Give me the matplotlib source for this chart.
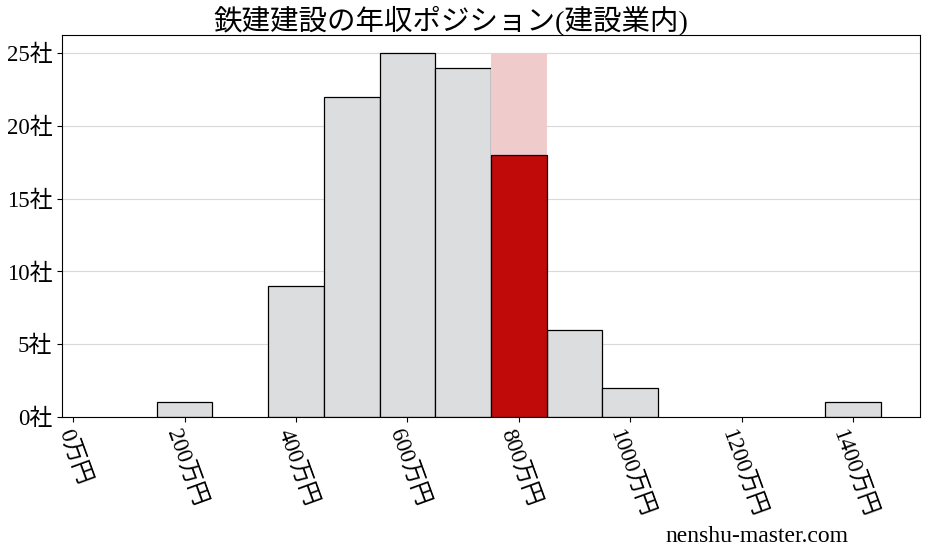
import numpy as np
import matplotlib
matplotlib.use("Agg")
import matplotlib.pyplot as plt

plt.rcParams['font.family'] = ['Liberation Serif', 'Noto Sans CJK JP', 'DejaVu Sans']

# histogram bins (万円) and counts of companies in the industry
bin_left = [150, 350, 450, 550, 650, 750, 850, 950, 1350]
counts = [1, 9, 22, 25, 24, 25, 6, 2, 1]
bin_width = 100
# the bin that holds this company
hl_left = 750
hl_count = 18

x_ticks = [0, 200, 400, 600, 800, 1000, 1200, 1400]
y_ticks = [0, 5, 10, 15, 20, 25]
title = "鉄建建設の年収ポジション(建設業内)"


def main():
    fig = plt.figure(figsize=(9.28, 5.57), dpi=100)
    ax = fig.add_axes([62 / 928, 1 - 417 / 557, 858 / 928, 382 / 557])

    for left, c in zip(bin_left, counts):
        if left == hl_left:
            ax.bar(left, c, width=bin_width, align='edge', color='#f0cbcc',
                   edgecolor='none', zorder=2)
        else:
            ax.bar(left, c, width=bin_width, align='edge', color='#dcdddf',
                   edgecolor='black', linewidth=0.9, zorder=2)
    ax.bar(hl_left, hl_count, width=bin_width, align='edge', color='#c00a0a',
           edgecolor='black', linewidth=0.9, zorder=3)

    ax.set_xlim(-20, 1520)
    ax.set_ylim(0, 26.25)
    ax.set_xticks(x_ticks)
    ax.set_xticklabels([f"{t}万円" for t in x_ticks], rotation=-70,
                       ha='center', va='top', fontsize=16.5)
    ax.set_yticks(y_ticks)
    ax.set_yticklabels([f"{t}社" for t in y_ticks], fontsize=16.5)
    ax.yaxis.grid(True, color='#d9d9d9', linewidth=0.8, zorder=0)
    ax.set_axisbelow(True)
    ax.set_title(title, fontsize=20.5, x=0.453, pad=4)

    fig.text(848 / 928, 1 - 537 / 557, "nenshu-master.com", ha='right',
             va='center', fontsize=17)

    fig.savefig("out.png", dpi=100)


if __name__ == "__main__":
    main()
